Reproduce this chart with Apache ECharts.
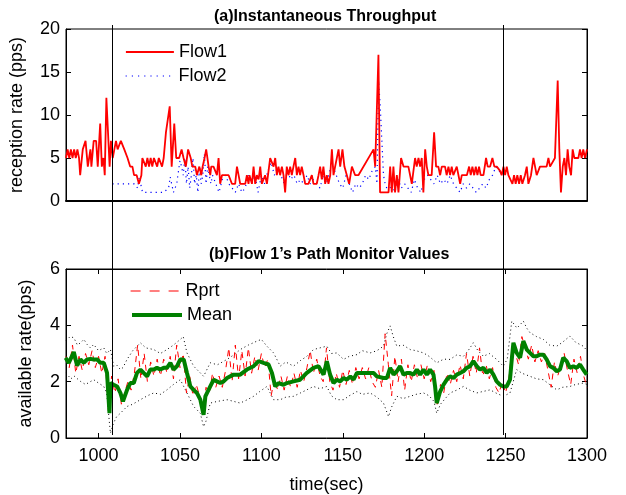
<!DOCTYPE html>
<html>
<head>
<meta charset="utf-8">
<script src="https://cdn.jsdelivr.net/npm/echarts@6/dist/echarts.min.js"></script>
<style>
  html, body { margin: 0; padding: 0; background: #fff; }
  #chart { width: 626px; height: 495px; }
</style>
</head>
<body>
<div id="chart"></div>
<script>
// time ticks shared by both panels
const timeTicks = [1000, 1050, 1100, 1150, 1200, 1250, 1300];
// the two instants marked by the vertical lines (flow 2 start / stop)
const eventTimes = [1008.5, 1248.5];

// (a) reception rate, [time, pps]
const flow1 = [
  [980,5],[981,6],[982,5],[983,6],[984,5],[985,6],[986,5],[987,6],[988,5],[988.7,3],[990.3,6],[992,7],[993.4,4],[995,6],[995.6,4],[997,7],
  [998.5,7],[999.5,4],[1001,9],[1002,4],[1003,5],[1003.8,3],[1004.8,12],[1005.8,12],[1006.8,4],[1007.6,7],[1008.7,5],[1009.7,6],[1010.7,7],
  [1011.7,6],[1012.7,6],[1013.7,7],[1014.7,7],[1015.8,6],[1016.8,6],[1017.8,5],[1018.8,5],[1019.4,4],[1020.8,4],[1021.8,3],[1023.4,3],
  [1024.8,2],[1026.3,3],[1026.9,5],[1028,5],[1029,4],[1030,5],[1031,4],[1032,5],[1033,4],[1034,5],[1035,5],[1036,4],[1037,5],[1038,5],
  [1039,4],[1040,5],[1041.4,8],[1043.7,11],[1044.9,4],[1046.5,9],[1047.7,5],[1049.5,5],[1051,6],[1052.2,5],[1053.6,4],[1055,6],[1056.6,5],
  [1057.6,4],[1058.7,4],[1059.4,4],[1060.4,3],[1061.9,4],[1063.1,3],[1063.9,4],[1065.1,5],[1066.1,6],[1067,6],[1067.6,4],[1068.6,3],
  [1069.2,4],[1070.6,4],[1071.7,4],[1072.7,3],[1073.7,5],[1074.7,2],[1075.8,3],[1079.9,3],[1080.9,3],[1081.9,2],[1083.9,2],[1085,4],
  [1086,3],[1087,2],[1090.1,2],[1091.1,3],[1092.1,2],[1092.7,3],[1094.2,2],[1095.2,4],[1096.2,2],[1097.2,3],[1098.3,2.5],[1099.3,4],
  [1100.3,2],[1102.3,3],[1103.4,2],[1105.4,5],[1106.4,5],[1107.5,4],[1108.5,5],[1109.5,3],[1110.5,4],[1111.5,3],[1112.6,4],[1113.6,3],
  [1114.6,1],[1115.6,4],[1116.7,3],[1117.7,4],[1118.7,3],[1119.7,4],[1120.8,5],[1121.8,3],[1122.8,4],[1123.8,3],[1124.8,4],[1125.9,3],
  [1126.9,2],[1128.9,2],[1131,3],[1132,2],[1134,2],[1135.1,3],[1136.1,4],[1137.1,2.5],[1138.1,4],[1139.2,2],[1140.2,3],[1141.2,2],
  [1142.3,3],[1143.3,6],[1144.3,3],[1145.3,4],[1147.4,6],[1148.4,4],[1149.8,6],[1151,4],[1152.5,3],[1153.9,2],[1155.6,4],[1157.6,3],
  [1159.6,3],[1168.9,6],[1169.9,4],[1170.9,4],[1171.9,17],[1172.5,7],[1172.9,1],[1178.1,1],[1179.1,4],[1180.1,1],[1181.1,4],[1182.1,1],
  [1183.2,3],[1184.2,1],[1185.8,5],[1187.3,4],[1190.3,4],[1192.4,2],[1193.4,2],[1194.4,5],[1195.4,4],[1196.5,5],[1197.5,4],[1198.5,5],
  [1199.5,1],[1200.6,6],[1201.6,4],[1202.6,3],[1204.6,3],[1206.1,8],[1207.3,4],[1208.7,4],[1209.8,3],[1210.8,4],[1212.8,4],[1213.8,3],
  [1214.9,4],[1215.9,3],[1216.9,4],[1217.9,3],[1220,4],[1221,4],[1222.1,2],[1223.1,3],[1226.2,3],[1227.6,4],[1228.6,3],[1229.6,4],
  [1230.7,3],[1231.7,4],[1232.7,3],[1233.7,4],[1234.7,3],[1236.4,3],[1238,5],[1239,4],[1240.5,4],[1241.9,5],[1243.1,4],[1244.6,4],
  [1246.6,3.5],[1247.6,3],[1248.7,4],[1249.7,3],[1250.7,4],[1251.7,3],[1252.7,3],[1254.2,2],[1255.2,3],[1256.2,2],[1257.2,3],[1258.3,2],
  [1259.3,3],[1260.3,2],[1261.9,3],[1263,4],[1264,2],[1265.6,3],[1267.1,5],[1268.1,4],[1269.1,3],[1271.1,4],[1275.2,4],[1276.3,5],
  [1277.3,4],[1280.3,5],[1281.4,5],[1282,14],[1283,6],[1284,1],[1285.1,4],[1286.1,5],[1287.1,3],[1288.1,6],[1289.1,4],[1290.2,3],
  [1291.2,6],[1292.2,5],[1294.7,5],[1295.7,6],[1296.7,5],[1297.7,6],[1298.8,5],[1300,6]
];

const flow2 = [
  [1008.5,2],[1012,2],[1016,2],[1020,2],[1022,2],[1024,1.5],[1025,2.8],[1027,1],[1030,1],[1035,1],[1040,1],[1043,1.5],[1044,2.8],
  [1046,1],[1048,2],[1050,4.7],[1051,4],[1052,3],[1053,5],[1054,2],[1055,4],[1056,1.5],[1057,3],[1058,5],[1059,2],[1060,3],[1061,1],
  [1062,4],[1063,2],[1064,3],[1065,5.5],[1066,2],[1067,4],[1068,3],[1069,2],[1070,3],[1072,2],[1074,1],[1076,2.5],[1078,3],[1080,2],
  [1082,1.5],[1084,1],[1086,2],[1088,1],[1090,1.5],[1092,3],[1094,2],[1096,3],[1098,1],[1100,3],[1102,2],[1104,3.5],[1106,4.5],
  [1108,3],[1110,4],[1112,3],[1114,2],[1116,3.5],[1118,2.5],[1120,3],[1122,2],[1124,2.5],[1126,2],[1128,3],[1130,2],[1132,2.5],
  [1134,2],[1136,1.5],[1138,3],[1140,2],[1142,3.5],[1144,4],[1146,3],[1148,2],[1150,1.5],[1152,3],[1154,2],[1156,1],[1158,2],
  [1160,1.5],[1162,2],[1164,3],[1166,2.5],[1168,3.5],[1170,4],[1171,2],[1172,14],[1173,11],[1174,7],[1175,3],[1176,2],[1178,1],
  [1180,2],[1182,1],[1184,2.5],[1186,1.5],[1188,2],[1190,1.5],[1192,1],[1194,2.5],[1196,1.5],[1198,1],[1200,2.5],[1202,3],[1204,2.5],
  [1206,2],[1208,3],[1210,2],[1212,2.5],[1214,2],[1216,3],[1218,2],[1220,1.5],[1222,1],[1224,2],[1226,1.5],[1228,2],[1230,1.5],
  [1232,1],[1234,1.5],[1236,2],[1238,1.5],[1240,2.5],[1242,3],[1244,4],[1246,3.5],[1248,3]
];

// (b) path monitor values: Rprt sampled every 2 s from 980
const rprtStart = 980;
const rprtStep = 2;
const rprt = [
  2.9, 2.5, 3.3, 2.3, 2.9, 2.4, 3.0, 2.6, 3.1, 2.5,
  2.9, 2.3, 2.9, 1.0, 2.2, 1.6, 2.1, 1.2, 1.6, 2.0,
  1.7, 2.3, 3.3, 2.1, 3.0, 2.0, 2.7, 2.2, 2.8, 2.2,
  2.8, 2.3, 2.9, 2.1, 3.3, 2.5, 3.0, 1.6, 2.2, 1.5,
  1.9, 1.5, 1.0, 1.8, 1.6, 2.3, 1.8, 2.2, 1.8, 2.4,
  3.2, 2.0, 3.3, 2.1, 3.1, 2.2, 3.2, 2.3, 2.9, 2.4,
  3.0, 2.5, 2.8, 1.5, 2.1, 1.7, 2.2, 1.7, 2.2, 1.8,
  2.3, 1.8, 2.4, 2.0, 2.5, 3.1, 2.3, 2.8, 2.2, 2.0,
  3.2, 2.0, 1.7, 2.3, 1.8, 2.4, 1.9, 2.4, 1.9, 2.5,
  2.1, 2.5, 2.1, 2.5, 2.0, 1.8, 2.4, 1.8, 3.7, 2.6,
  1.5, 2.9, 2.0, 2.8, 1.7, 2.6, 2.0, 2.6, 2.1, 2.6,
  2.1, 2.6, 2.0, 2.4, 1.2, 1.9, 1.6, 2.3, 1.9, 2.4,
  2.0, 2.6, 2.1, 3.0, 2.2, 2.9, 2.3, 3.2, 2.2, 2.6,
  2.1, 2.5, 1.8, 1.6, 2.0, 1.6, 2.1, 3.2, 3.0, 2.6,
  3.6, 3.2, 2.8, 3.3, 2.7, 3.1, 2.7, 3.0, 2.4, 1.8,
  2.7, 2.2, 2.6, 3.0, 2.4, 1.9, 2.8, 2.3, 2.9, 2.2,
  1.8
];

const mean = [
  [979.7,2.85],[981.7,2.67],[984.8,3.05],[986.8,2.57],[988.9,2.79],[990.9,2.67],[993,2.79],[995,2.81],[997,2.79],[999.1,2.79],
  [1001.1,2.67],[1003.2,2.67],[1005.2,2.31],[1006.7,0.88],[1007.3,1.95],[1009.3,1.89],[1011.4,1.83],[1013.4,1.6],[1015,1.3],
  [1017.5,1.71],[1019.5,1.95],[1021.6,1.95],[1023.6,2.31],[1025.7,2.43],[1027.7,2.31],[1029.8,2.19],[1031.8,2.43],[1033.9,2.43],
  [1035.9,2.49],[1037.9,2.43],[1040,2.49],[1042,2.49],[1044.1,2.67],[1046.1,2.43],[1048.2,2.55],[1050.2,2.79],[1052.3,2.79],
  [1054.3,2.31],[1056.4,1.83],[1058.4,1.71],[1060.4,1.6],[1062.5,1.36],[1064.5,0.82],[1065.6,1.48],[1068.6,1.83],[1070.7,2.07],
  [1072.7,2.01],[1074.8,1.95],[1076.8,2.01],[1078.9,2.13],[1082.9,2.25],[1087,2.25],[1091.1,2.43],[1095.2,2.55],[1098.3,2.73],
  [1101.3,2.67],[1104.4,2.61],[1106.5,2.31],[1108.5,1.83],[1110.5,1.95],[1113.6,1.89],[1115.7,1.95],[1119.7,2.01],[1123.8,2.07],
  [1127.9,2.31],[1132,2.49],[1135.1,2.55],[1138.2,2.25],[1140.2,2.73],[1142.2,2.25],[1144.3,1.95],[1146.4,2.07],[1148.4,2.01],
  [1150.5,2.13],[1152.5,2.07],[1154.6,2.19],[1156.6,2.07],[1158.7,2.31],[1162.8,2.31],[1168.9,2.31],[1170.9,2.19],[1175,2.13],
  [1177.1,2.13],[1179.1,2.49],[1181.2,2.25],[1183.2,2.37],[1185.2,2.55],[1187.3,2.25],[1189.3,2.31],[1191.4,2.31],[1193.4,2.25],
  [1195.5,2.43],[1197.5,2.25],[1199.6,2.43],[1201.6,2.25],[1203.6,2.43],[1205.7,2.25],[1206.7,1.83],[1207.7,1.24],[1209.8,1.65],
  [1211.8,1.89],[1213.9,2.07],[1215.9,2.19],[1218,2.13],[1220,2.25],[1222.1,2.31],[1224.1,2.37],[1226.1,2.49],[1228.2,2.55],
  [1230.2,2.73],[1232.3,2.55],[1234.3,2.43],[1236.4,2.49],[1238.4,2.31],[1240.5,2.43],[1242.5,2.25],[1244.5,2.01],[1246.6,1.89],
  [1248.6,1.83],[1250.7,1.83],[1252.7,2.07],[1253.8,2.79],[1254.8,3.38],[1255.8,3.32],[1256.8,3.02],[1258.9,2.85],[1260.9,3.44],
  [1262,3.5],[1263,3.14],[1265,3.02],[1267.1,2.9],[1269.1,2.9],[1271.1,2.96],[1273.2,2.96],[1275.2,2.79],[1277.3,2.55],
  [1279.3,2.49],[1281.4,2.37],[1283.4,2.43],[1285.4,2.85],[1287.5,2.73],[1289.5,2.49],[1291.6,2.55],[1293.6,2.49],[1295.7,2.61],
  [1297.7,2.43],[1299.8,2.25]
];

const upper = [
  [980,3.45],[982.5,3.6],[984.8,3.56],[987,3.3],[988.9,3.38],[991,3.5],[993,3.32],[995,3.2],[997,3.32],[1000,3.1],[1003.2,3.2],
  [1005,3.0],[1007.3,3.14],[1009.3,2.55],[1011,2.6],[1013.4,2.43],[1015,2.5],[1017.5,2.79],[1021,3.1],[1025.7,3.38],[1029,3.2],
  [1033.9,3.14],[1038,3.0],[1042,3.14],[1046,3.3],[1050.2,3.5],[1052,3.6],[1054.3,3.02],[1058.4,2.55],[1062.5,2.31],[1064.5,2.19],
  [1068.6,2.67],[1073,2.6],[1078.9,2.79],[1083,2.95],[1087,3.14],[1092,3.3],[1097.3,3.44],[1100,3.5],[1103.4,3.26],[1107.5,3.02],
  [1111.6,2.55],[1115,2.7],[1119.7,2.55],[1124,2.75],[1127.9,2.9],[1132,3.14],[1136,3.2],[1140.2,3.26],[1143,3.0],[1146.3,3.02],
  [1150.5,2.79],[1154,2.9],[1158.7,2.96],[1162,3.1],[1166.8,3.02],[1171,3.1],[1175,3.26],[1177,3.7],[1179.1,3.98],[1181,3.6],
  [1183.2,3.26],[1187,3.3],[1191.4,3.14],[1195,3.1],[1199.6,3.02],[1203,2.9],[1207.7,2.67],[1212,2.8],[1215.9,2.79],[1220,2.95],
  [1224.1,2.9],[1227,3.1],[1230.2,3.38],[1233,3.1],[1236.4,2.9],[1240,3.0],[1244.5,2.79],[1248.6,2.55],[1251,2.8],[1253.8,4.15],
  [1257,3.9],[1260.9,4.15],[1263,3.9],[1265,3.74],[1269,3.6],[1273.2,3.5],[1277,3.3],[1281.4,3.26],[1285,3.4],[1289.5,3.62],
  [1293,3.4],[1297.7,3.26],[1300,3.1]
];

const lower = [
  [980,2.31],[983,2.1],[985,2.2],[988.9,2.01],[992,1.9],[997,2.07],[1000,1.95],[1003.2,1.83],[1005,1.6],[1006.7,0.52],[1007.3,0.17],
  [1009,0.5],[1011,0.75],[1013.4,0.88],[1017.5,1.12],[1021,1.2],[1025.7,1.36],[1030,1.5],[1033.9,1.6],[1038,1.55],[1042,1.71],
  [1046,1.9],[1050.2,2.07],[1054.3,1.6],[1058.4,1.12],[1062.5,0.88],[1064.5,0.4],[1066,0.6],[1068.6,1.24],[1073,1.3],[1078.9,1.36],
  [1083,1.3],[1087,1.24],[1091,1.35],[1095.2,1.48],[1099,1.65],[1103.4,1.83],[1107.5,1.36],[1111.6,1.36],[1115,1.45],[1119.7,1.48],
  [1124,1.6],[1127.9,1.71],[1132,1.83],[1136,1.75],[1140.2,1.83],[1143,1.5],[1146.3,1.36],[1150.5,1.36],[1154,1.5],[1158.7,1.65],
  [1162,1.55],[1166.8,1.6],[1171,1.45],[1175,1.24],[1178.1,0.76],[1180,1.1],[1183.2,1.48],[1187,1.4],[1191.4,1.48],[1195,1.55],
  [1199.6,1.6],[1203,1.5],[1206,1.3],[1207.7,0.88],[1210,1.2],[1215.9,1.6],[1220,1.7],[1224.1,1.83],[1228,1.7],[1232.3,1.6],
  [1236,1.65],[1240.5,1.71],[1244,1.6],[1248.6,1.48],[1252.7,1.6],[1256.8,2.43],[1260,2.3],[1265,2.19],[1269,2.1],[1273.2,2.07],
  [1277,1.9],[1281.4,1.71],[1285,1.8],[1289.5,1.83],[1293,1.9],[1297.7,1.95],[1300,1.9]
];

const FONT = 'Liberation Sans, Arial, Helvetica, sans-serif';
const chart = echarts.init(document.getElementById('chart'));

const rprtData = rprt.map((v, i) => [rprtStart + i * rprtStep, v]);

const boxAxis = { show: true, onZero: false, lineStyle: { color: '#000', width: 1 } };
const insideTick = { show: true, inside: true, length: 5, lineStyle: { color: '#000' } };

// one legend per entry so each row sits where the original puts it
function legendAt(name, left, top, width, lineStyle) {
  return {
    data: [name], left: left, top: top, padding: 0,
    itemWidth: width, itemHeight: 12, selectedMode: false,
    itemStyle: { opacity: 0 },
    lineStyle: lineStyle,
    textStyle: { fontFamily: FONT, fontSize: 18, color: '#000' }
  };
}

const option = {
  animation: false,
  backgroundColor: '#fff',
  textStyle: { fontFamily: FONT },
  title: [
    { text: '(a)Instantaneous Throughput', left: 209, top: 4,
      textStyle: { fontFamily: FONT, fontSize: 16, fontWeight: 'bold', color: '#000' } },
    { text: '(b)Flow 1\u2019s Path Monitor Values', left: 204, top: 242,
      textStyle: { fontFamily: FONT, fontSize: 16, fontWeight: 'bold', color: '#000' } }
  ],
  legend: [
    legendAt('Flow1', 125, 43, 48, { width: 1.8 }),
    legendAt('Flow2', 125, 67, 48, { width: 1.2, type: [1.2, 5] }),
    legendAt('Rprt', 130, 282, 50, { width: 1.2, type: [10, 9] }),
    legendAt('Mean', 130, 306, 50, { width: 4 })
  ],
  grid: [
    { left: 66, top: 29, width: 521, height: 172, show: true, borderColor: '#000', borderWidth: 1 },
    { left: 66, top: 269, width: 521, height: 169, show: true, borderColor: '#000', borderWidth: 1 },
    { left: 66, top: 25, width: 521, height: 410 }
  ],
  xAxis: [
    { gridIndex: 0, type: 'value', min: 980, max: 1300,
      axisLine: { show: true, onZero: false, lineStyle: { color: '#000', width: 2 } },
      axisTick: { show: false }, axisLabel: { show: false }, splitLine: { show: false } },
    { gridIndex: 1, type: 'value', min: 980, max: 1300,
      axisLine: boxAxis,
      axisTick: Object.assign({ customValues: timeTicks }, insideTick),
      axisLabel: { customValues: timeTicks, fontSize: 18, color: '#000', margin: 9, fontFamily: FONT,
        formatter: v => String(v) },
      splitLine: { show: false },
      name: 'time(sec)', nameLocation: 'middle', nameGap: 38,
      nameTextStyle: { fontSize: 18, color: '#000', fontFamily: FONT } },
    { gridIndex: 1, type: 'value', position: 'top', min: 980, max: 1300,
      axisLine: boxAxis,
      axisTick: Object.assign({ customValues: timeTicks }, insideTick),
      axisLabel: { show: false }, splitLine: { show: false } },
    { gridIndex: 2, type: 'value', min: 980, max: 1300, show: false }
  ],
  yAxis: [
    { gridIndex: 0, type: 'value', min: 0, max: 20, interval: 5,
      axisLine: boxAxis, axisTick: insideTick,
      axisLabel: { fontSize: 18, color: '#000', margin: 6, fontFamily: FONT },
      splitLine: { show: false },
      name: 'reception rate (pps)', nameLocation: 'middle', nameGap: 40,
      nameTextStyle: { fontSize: 18, color: '#000', fontFamily: FONT } },
    { gridIndex: 0, type: 'value', position: 'right', min: 0, max: 20, interval: 5,
      axisLine: boxAxis, axisTick: insideTick, axisLabel: { show: false }, splitLine: { show: false } },
    { gridIndex: 1, type: 'value', min: 0, max: 6, interval: 2,
      axisLine: boxAxis, axisTick: insideTick,
      axisLabel: { fontSize: 18, color: '#000', margin: 6, fontFamily: FONT },
      splitLine: { show: false },
      name: 'available rate(pps)', nameLocation: 'middle', nameGap: 31,
      nameTextStyle: { fontSize: 18, color: '#000', fontFamily: FONT } },
    { gridIndex: 1, type: 'value', position: 'right', min: 0, max: 6, interval: 2,
      axisLine: boxAxis, axisTick: insideTick, axisLabel: { show: false }, splitLine: { show: false } },
    { gridIndex: 2, type: 'value', min: 0, max: 1, show: false }
  ],
  series: [
    { name: 'Flow2', type: 'line', xAxisIndex: 0, yAxisIndex: 0, data: flow2,
      symbol: 'none', lineStyle: { color: '#0000ff', width: 1.2, type: [1.2, 4] },
      itemStyle: { color: '#0000ff' }, z: 2 },
    { name: 'Flow1', type: 'line', xAxisIndex: 0, yAxisIndex: 0, data: flow1,
      symbol: 'none', lineStyle: { color: '#ff0000', width: 1.8 },
      itemStyle: { color: '#ff0000' }, z: 3 },
    { name: 'Upper', type: 'line', xAxisIndex: 1, yAxisIndex: 2, data: upper,
      symbol: 'none', lineStyle: { color: '#000', width: 1, type: [1, 3] }, z: 2 },
    { name: 'Lower', type: 'line', xAxisIndex: 1, yAxisIndex: 2, data: lower,
      symbol: 'none', lineStyle: { color: '#000', width: 1, type: [1, 3] }, z: 2 },
    { name: 'Rprt', type: 'line', xAxisIndex: 1, yAxisIndex: 2, data: rprtData,
      symbol: 'none', lineStyle: { color: '#ff0000', width: 1, type: [6, 5] },
      itemStyle: { color: '#ff0000' }, z: 3 },
    { name: 'Mean', type: 'line', xAxisIndex: 1, yAxisIndex: 2, data: mean,
      symbol: 'none', lineStyle: { color: '#008000', width: 4 },
      itemStyle: { color: '#008000' }, z: 4 },
    { name: 'events', type: 'line', xAxisIndex: 3, yAxisIndex: 4, data: [],
      symbol: 'none',
      markLine: { silent: true, symbol: ['none', 'none'], label: { show: false },
        lineStyle: { color: '#000', width: 1, type: 'solid' },
        data: eventTimes.map(t => ({ xAxis: t })) },
      z: 5 }
  ]
};

chart.setOption(option);
</script>
</body>
</html>
